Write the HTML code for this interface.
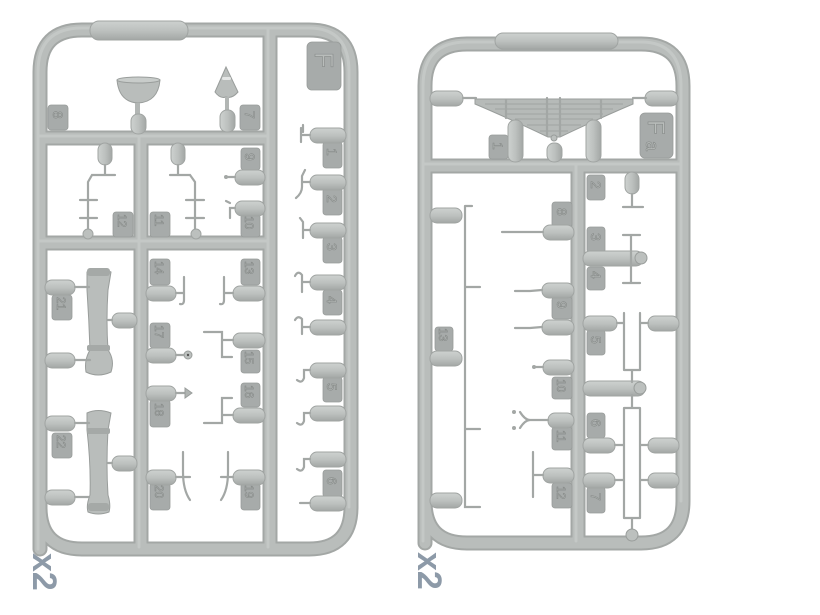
<!DOCTYPE html>
<html><head><meta charset="utf-8"><style>
html,body{margin:0;padding:0;background:#fff;width:820px;height:615px;overflow:hidden}
svg{display:block}
.rd{fill:none;stroke:#a3a7a5;stroke-width:15;stroke-linecap:round;stroke-linejoin:round}
.rl{fill:none;stroke:#b9bdbb;stroke-width:11;stroke-linecap:round;stroke-linejoin:round}
.rh{fill:none;stroke:#c4c8c6;stroke-width:3;stroke-linecap:round;stroke-linejoin:round}
.g{fill:#bcc0be;stroke:#a0a4a2;stroke-width:1}
.t{fill:#a7abaa;stroke:#989c9a;stroke-width:.8}
.n{fill:#b9bdbb;stroke:#868a88;stroke-width:.6;font-family:"Liberation Sans",sans-serif;font-size:14px}
.w{fill:none;stroke:#a3a7a5;stroke-width:2.2;stroke-linecap:round}
.p{fill:#b9bdbb;stroke:#999d9b;stroke-width:1}
</style></head><body>
<svg width="820" height="615" viewBox="0 0 820 615" xmlns="http://www.w3.org/2000/svg">
<defs>
<linearGradient id="gh" x1="0" y1="0" x2="0" y2="1"><stop offset="0" stop-color="#cdd1cf"/><stop offset=".5" stop-color="#bdc1bf"/><stop offset="1" stop-color="#a3a7a5"/></linearGradient>
<linearGradient id="gv" x1="0" y1="0" x2="1" y2="0"><stop offset="0" stop-color="#cdd1cf"/><stop offset=".5" stop-color="#bdc1bf"/><stop offset="1" stop-color="#a3a7a5"/></linearGradient>
</defs>

<!-- ================= LEFT SPRUE ================= -->
<g>
<path class="rd" d="M40,549 V72 Q40,30 82,30 H309 Q351,30 351,72 V507 Q351,549 309,549 H82 Q40,549 40,507 Z"/>
<path class="rd" d="M40,138 H270 M40,243 H270 M270,30 V549 M141,138 V549"/>
<path class="rl" d="M40,549 V72 Q40,30 82,30 H309 Q351,30 351,72 V507 Q351,549 309,549 H82 Q40,549 40,507 Z"/>
<path class="rl" d="M40,138 H270 M40,243 H270 M270,30 V549 M141,138 V549"/>
<path class="rh" d="M38,549 V72 Q38,28 82,28 H309 Q349,28 349,72 V507 M38,136 H268 M38,241 H268 M268,30 V547 M139,138 V547"/>
<rect x="90" y="21" width="98" height="19" rx="9" fill="url(#gh)" stroke="#a0a4a2"/>

<!-- tags -->
<rect class="t" x="48" y="105" width="20" height="25" rx="3"/>
<rect class="t" x="240" y="105" width="20" height="25" rx="3"/>
<rect class="t" x="307" y="42" width="34" height="48" rx="5"/>
<rect class="t" x="241" y="148" width="19" height="22" rx="3"/>
<rect class="t" x="241" y="214" width="19" height="23" rx="3"/>
<rect class="t" x="113" y="212" width="20" height="25" rx="3"/>
<rect class="t" x="150" y="212" width="20" height="25" rx="3"/>
<rect class="t" x="323" y="142" width="19" height="26" rx="3"/>
<rect class="t" x="323" y="188" width="19" height="27" rx="3"/>
<rect class="t" x="323" y="237" width="19" height="26" rx="3"/>
<rect class="t" x="323" y="290" width="19" height="25" rx="3"/>
<rect class="t" x="323" y="377" width="19" height="25" rx="3"/>
<rect class="t" x="323" y="470" width="19" height="27" rx="3"/>
<rect class="t" x="150" y="259" width="20" height="26" rx="3"/>
<rect class="t" x="241" y="259" width="19" height="26" rx="3"/>
<rect class="t" x="150" y="323" width="20" height="25" rx="3"/>
<rect class="t" x="241" y="350" width="19" height="23" rx="3"/>
<rect class="t" x="241" y="383" width="19" height="24" rx="3"/>
<rect class="t" x="150" y="400" width="20" height="27" rx="3"/>
<rect class="t" x="150" y="483" width="20" height="27" rx="3"/>
<rect class="t" x="241" y="483" width="19" height="27" rx="3"/>
<rect class="t" x="52" y="295" width="20" height="25" rx="3"/>
<rect class="t" x="52" y="433" width="20" height="25" rx="3"/>

<g class="n">
<text transform="translate(53,111) rotate(90)">8</text>
<text transform="translate(245,111) rotate(90)">7</text>
<text transform="translate(315,52) rotate(90)" style="font-size:26px">F</text>
<text transform="translate(245,153) rotate(90)">9</text>
<text transform="translate(245,216) rotate(90)" style="font-size:12px">10</text>
<text transform="translate(118,214) rotate(90)" style="font-size:12px">12</text>
<text transform="translate(155,214) rotate(90)" style="font-size:12px">11</text>
<text transform="translate(327,148) rotate(90)">1</text>
<text transform="translate(327,195) rotate(90)">2</text>
<text transform="translate(327,243) rotate(90)">3</text>
<text transform="translate(327,296) rotate(90)">4</text>
<text transform="translate(327,383) rotate(90)">5</text>
<text transform="translate(327,477) rotate(90)">6</text>
<text transform="translate(155,261) rotate(90)" style="font-size:12px">14</text>
<text transform="translate(245,261) rotate(90)" style="font-size:12px">13</text>
<text transform="translate(155,325) rotate(90)" style="font-size:12px">17</text>
<text transform="translate(245,351) rotate(90)" style="font-size:12px">15</text>
<text transform="translate(245,385) rotate(90)" style="font-size:12px">16</text>
<text transform="translate(155,403) rotate(90)" style="font-size:12px">18</text>
<text transform="translate(155,485) rotate(90)" style="font-size:12px">20</text>
<text transform="translate(245,485) rotate(90)" style="font-size:12px">19</text>
<text transform="translate(57,297) rotate(90)" style="font-size:12px">21</text>
<text transform="translate(57,435) rotate(90)" style="font-size:12px">22</text>
</g>

<!-- top parts -->
<path class="p" d="M117,80 H160 Q158,102 138,103 Q119,102 117,80 Z"/>
<ellipse cx="138.5" cy="80" rx="21.5" ry="3" fill="#c8ccca" stroke="#999d9b"/>
<rect x="135" y="103" width="5" height="14" fill="#b2b6b4"/>
<rect x="131" y="114" width="15" height="20" rx="7" fill="url(#gv)" stroke="#a0a4a2"/>
<path class="p" d="M226,67 L238,92 Q232,99 226,97 Q220,99 215,92 Z"/>
<rect x="222" y="77" width="9" height="3" rx="1.5" fill="#e4e6e5"/>
<rect x="225" y="97" width="4" height="15" fill="#b2b6b4"/>
<rect x="220" y="110" width="15" height="22" rx="7" fill="url(#gv)" stroke="#a0a4a2"/>

<!-- wire parts under runner 138 -->
<rect x="98" y="143" width="14" height="22" rx="7" fill="url(#gv)" stroke="#a0a4a2"/>
<rect x="171" y="143" width="14" height="22" rx="7" fill="url(#gv)" stroke="#a0a4a2"/>
<path class="w" d="M105,165 V175 H115 M105,175 H92 L88,182 V232"/>
<path class="w" d="M178,165 V175 H170 M178,175 H190 L195,182 V232"/>
<path class="w" d="M80,200 H97 M80,218 H97 M186,200 H204 M186,218 H204"/>
<circle cx="88" cy="234" r="5" fill="#bcc0be" stroke="#a0a4a2"/>
<circle cx="196" cy="234" r="5" fill="#bcc0be" stroke="#a0a4a2"/>

<g fill="url(#gh)" stroke="#a0a4a2">
<rect x="235" y="170" width="30" height="15" rx="7"/>
<rect x="235" y="201" width="30" height="15" rx="7"/>
<rect x="233" y="286" width="32" height="15" rx="7"/>
<rect x="233" y="333" width="32" height="15" rx="7"/>
<rect x="233" y="408" width="32" height="15" rx="7"/>
<rect x="233" y="470" width="32" height="15" rx="7"/>
<rect x="146" y="286" width="30" height="15" rx="7"/>
<rect x="146" y="348" width="30" height="15" rx="7"/>
<rect x="146" y="386" width="30" height="15" rx="7"/>
<rect x="146" y="470" width="30" height="15" rx="7"/>
<rect x="112" y="313" width="25" height="15" rx="7"/>
<rect x="112" y="456" width="25" height="15" rx="7"/>
<rect x="45" y="280" width="30" height="15" rx="7"/>
<rect x="45" y="353" width="30" height="15" rx="7"/>
<rect x="45" y="416" width="30" height="15" rx="7"/>
<rect x="45" y="490" width="30" height="15" rx="7"/>
<rect x="310" y="128" width="36" height="15" rx="7"/>
<rect x="310" y="175" width="36" height="15" rx="7"/>
<rect x="310" y="223" width="36" height="15" rx="7"/>
<rect x="310" y="275" width="36" height="15" rx="7"/>
<rect x="310" y="320" width="36" height="15" rx="7"/>
<rect x="310" y="363" width="36" height="15" rx="7"/>
<rect x="310" y="406" width="36" height="15" rx="7"/>
<rect x="310" y="452" width="36" height="15" rx="7"/>
<rect x="310" y="496" width="36" height="15" rx="7"/>
</g>

<path class="w" d="M235,177 H227 M235,208 H230 V218 M230,203 L226,201"/>
<circle cx="226" cy="177" r="2" fill="#a3a7a5"/>
<path class="w" d="M310,135 H301 M301,128 V142 M303,125 V132 M310,182 H302 M302,176 V187 Q302,193 296,198 M302,176 L305,170 M310,230 H303 V238 M303,230 V222 L300,218"/>
<path class="w" d="M310,282 H302 V292 M302,282 V275 Q298,270 295,276 M310,327 H302 V334 M302,327 V319 Q298,315 295,320"/>
<path class="w" d="M310,370 H304 V378 Q302,384 297,380 M310,413 H304 V421 Q302,427 297,423 M310,459 H304 V467 Q302,473 297,469 M310,503 H300"/>
<path class="w" d="M176,293 H184 V300 Q184,305 180,304 M184,293 V277 M233,293 H224 V300 Q224,305 220,304 M224,293 V277"/>
<circle cx="188" cy="355" r="4" fill="#bcc0be" stroke="#999d9b"/><circle cx="188" cy="355" r="1.2" fill="#555"/>
<path class="w" d="M176,355 H184 M176,393 H185"/>
<path d="M185,388 L192,393 L185,398 Z" fill="#b0b4b2" stroke="#999d9b"/>
<path class="w" d="M233,340 H222 V357 H232 M222,340 V332 H204"/>
<path class="w" d="M233,415 H222 V398 H232 M222,415 V423 H204"/>
<path class="w" d="M176,477 H190 M183,452 V472 Q183,490 190,500 M233,477 H221 M228,452 V472 Q228,490 221,500"/>
<g>
<path class="p" d="M87,272 Q98,266 111,272 L108,290 Q106,320 108,350 Q115,360 111,372 Q98,378 86,372 Q84,360 90,350 Q89,320 87,290 Z"/>
<rect x="87" y="268" width="23" height="8" rx="3" fill="#a5a9a7"/>
<rect x="87" y="345" width="23" height="6" rx="2" fill="#a5a9a7"/>
<path class="w" d="M75,287 H89 M75,360 H90 M108,320 H112"/>
<path class="p" d="M87,413 Q98,408 111,413 L108,430 Q106,465 108,495 Q111,505 109,512 Q98,516 88,512 Q86,505 90,495 Q91,465 87,430 Z"/>
<rect x="87" y="428" width="23" height="6" rx="2" fill="#a5a9a7"/>
<rect x="88" y="503" width="21" height="8" rx="3" fill="#a5a9a7"/>
<path class="w" d="M75,423 H89 M75,497 H89 M108,463 H112"/>
</g>
</g>

<!-- ================= RIGHT SPRUE ================= -->
<g>
<path class="rd" d="M425,543 V86 Q425,44 467,44 H641 Q683,44 683,86 V501 Q683,543 641,543 H467 Q425,543 425,501 Z"/>
<path class="rd" d="M425,166 H683 M578,166 V543"/>
<path class="rl" d="M425,543 V86 Q425,44 467,44 H641 Q683,44 683,86 V501 Q683,543 641,543 H467 Q425,543 425,501 Z"/>
<path class="rl" d="M425,166 H683 M578,166 V543"/>
<path class="rh" d="M423,541 V86 Q423,42 467,42 H641 Q681,42 681,86 V501 M425,164 H681 M576,166 V541"/>
<rect x="495" y="33" width="123" height="16" rx="8" fill="url(#gh)" stroke="#a0a4a2"/>

<rect class="t" x="489" y="135" width="19" height="24" rx="3"/>
<rect class="t" x="640" y="113" width="33" height="45" rx="5"/>
<rect class="t" x="587" y="175" width="18" height="25" rx="3"/>
<rect class="t" x="552" y="202" width="20" height="25" rx="3"/>
<rect class="t" x="587" y="227" width="18" height="26" rx="3"/>
<rect class="t" x="587" y="267" width="18" height="23" rx="3"/>
<rect class="t" x="552" y="297" width="20" height="22" rx="3"/>
<rect class="t" x="587" y="330" width="18" height="25" rx="3"/>
<rect class="t" x="552" y="377" width="20" height="22" rx="3"/>
<rect class="t" x="587" y="413" width="18" height="25" rx="3"/>
<rect class="t" x="552" y="427" width="20" height="23" rx="3"/>
<rect class="t" x="552" y="483" width="20" height="25" rx="3"/>
<rect class="t" x="587" y="487" width="18" height="26" rx="3"/>
<rect class="t" x="435" y="327" width="18" height="24" rx="3"/>
<g class="n">
<text transform="translate(493,142) rotate(90)">1</text>
<text transform="translate(648,120) rotate(90)" style="font-size:24px">F</text>
<text transform="translate(646,141) rotate(90)" style="font-size:18px">a</text>
<text transform="translate(591,181) rotate(90)">2</text>
<text transform="translate(557,208) rotate(90)">8</text>
<text transform="translate(591,233) rotate(90)">3</text>
<text transform="translate(591,271) rotate(90)">4</text>
<text transform="translate(557,301) rotate(90)">9</text>
<text transform="translate(591,336) rotate(90)">5</text>
<text transform="translate(557,379) rotate(90)" style="font-size:12px">10</text>
<text transform="translate(591,419) rotate(90)">6</text>
<text transform="translate(557,430) rotate(90)" style="font-size:12px">11</text>
<text transform="translate(557,486) rotate(90)" style="font-size:12px">12</text>
<text transform="translate(591,493) rotate(90)">7</text>
<text transform="translate(439,328) rotate(90)" style="font-size:12px">13</text>
</g>

<g fill="url(#gh)" stroke="#a0a4a2">
<rect x="430" y="91" width="33" height="15" rx="7"/>
<rect x="645" y="91" width="33" height="15" rx="7"/>
</g>
<path d="M475,99 L633,99 L633,104 Q600,118 560,137 L548,137 Q508,118 475,104 Z" fill="#b6bab8" stroke="#999d9b"/>
<path d="M485,104 H623 M495,109 H613 M505,114 H603 M515,119 H593 M527,125 H581 M540,131 H568" stroke="#a0a4a2" stroke-width="1"/>
<path class="w" d="M463,98 H476 M633,98 H646 M547,98 V135 M560,98 V135 M506,100 V118 M601,100 V118"/>
<g fill="url(#gv)" stroke="#a0a4a2">
<rect x="508" y="120" width="15" height="42" rx="7"/>
<rect x="547" y="143" width="15" height="19" rx="7"/>
<rect x="586" y="120" width="15" height="42" rx="7"/>
<rect x="625" y="172" width="14" height="22" rx="7"/>
</g>
<circle cx="554" cy="138" r="3" fill="#bcc0be" stroke="#999d9b"/>

<path class="w" d="M465,206 V507 H480 M465,206 H472 M465,287 H480 M465,429 H480"/>
<g fill="url(#gh)" stroke="#a0a4a2">
<rect x="430" y="208" width="32" height="15" rx="7"/>
<rect x="430" y="351" width="32" height="15" rx="7"/>
<rect x="430" y="493" width="32" height="15" rx="7"/>
<rect x="543" y="225" width="31" height="15" rx="7"/>
<rect x="542" y="283" width="32" height="15" rx="7"/>
<rect x="542" y="320" width="32" height="15" rx="7"/>
<rect x="543" y="360" width="31" height="15" rx="7"/>
<rect x="548" y="413" width="26" height="15" rx="7"/>
<rect x="543" y="468" width="31" height="15" rx="7"/>
<rect x="583" y="251" width="60" height="15" rx="7"/>
<rect x="583" y="316" width="34" height="15" rx="7"/>
<rect x="583" y="381" width="62" height="15" rx="7"/>
<rect x="583" y="438" width="32" height="15" rx="7"/>
<rect x="583" y="473" width="32" height="15" rx="7"/>
<rect x="648" y="316" width="31" height="15" rx="7"/>
<rect x="648" y="438" width="31" height="15" rx="7"/>
<rect x="648" y="473" width="31" height="15" rx="7"/>
</g>
<path class="w" d="M632,194 V207 M623,207 H643 M543,232 H502 M631,235 V283 M623,235 H640 M623,283 H640"/>
<circle cx="641" cy="258" r="6" fill="#bcc0be" stroke="#999d9b"/>
<path class="w" d="M542,290 L530,291 H515 M542,327 L530,328 H515 M543,367 H535 M548,420 H530 M520,412 Q525,420 530,420 Q525,420 520,428 M543,475 H533 M533,452 V497"/>
<circle cx="534" cy="367" r="2" fill="#a3a7a5"/>
<circle cx="514" cy="412" r="2" fill="#a3a7a5"/><circle cx="514" cy="428" r="2" fill="#a3a7a5"/>
<path class="w" d="M617,323 H624 M648,323 H640 M624,313 V370 M640,313 V370 M624,370 H640 M632,370 V382"/>
<path class="w" d="M615,445 H624 M648,445 H640 M615,480 H624 M648,480 H640 M624,408 V518 M640,408 V518 M624,408 H640 M624,518 H640 M632,395 V408 M632,518 V530"/>
<circle cx="640" cy="388" r="6" fill="#bcc0be" stroke="#999d9b"/>
<circle cx="632" cy="535" r="6" fill="#bcc0be" stroke="#999d9b"/>
</g>

<g fill="#8d9aa8" font-family="Liberation Sans, sans-serif" font-weight="bold" font-size="34">
<text transform="translate(33,553) rotate(90)">x2</text>
<text transform="translate(418,552) rotate(90)">x2</text>
</g>
</svg>
</body></html>
